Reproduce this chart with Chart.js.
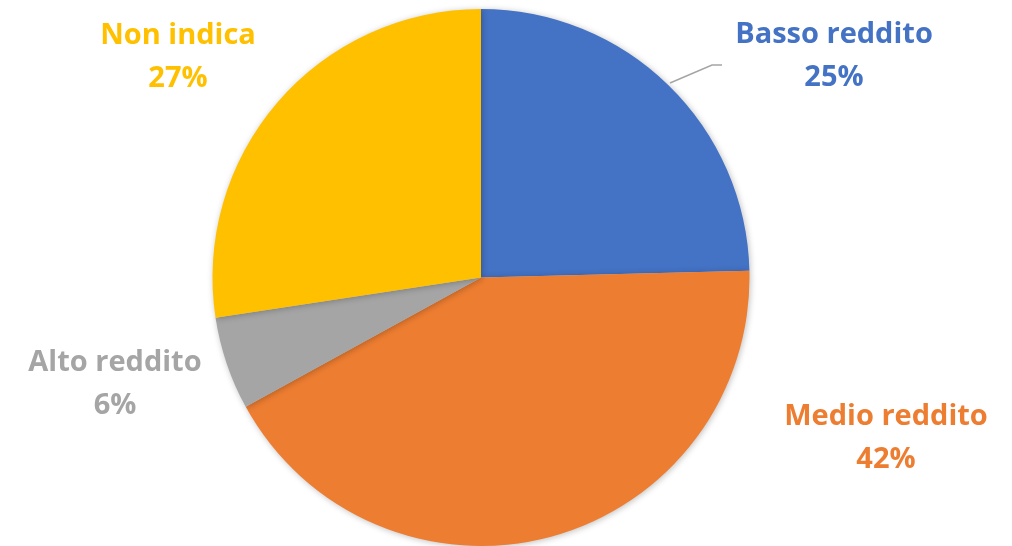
<!DOCTYPE html>
<html lang="it">
<head>
<meta charset="utf-8">
<title>Reddito</title>
<script src="https://cdn.jsdelivr.net/npm/chart.js@4/dist/chart.umd.min.js"></script>
<style>
    html, body { margin: 0; padding: 0; background: #fff; }
    #wrap { width: 1012px; height: 546px; position: relative; }
</style>
</head>
<body>
<div id="wrap"><canvas id="pieChart"></canvas></div>
<script>
// dati (quote in %)
const categories = ['Basso reddito', 'Medio reddito', 'Alto reddito', 'Non indica'];
const shares = [24.6, 42.4, 5.6, 27.4];
const sliceColors = ['#4472C4', '#ED7D31', '#A5A5A5', '#FFC000'];

// posizione delle etichette (centro delle due righe), come nel foglio originale
const labelSpots = [
    { x: 834, y: 35, leader: [[670, 83], [712, 65], [722, 65]] },
    { x: 886, y: 417 },
    { x: 115, y: 363 },
    { x: 178, y: 36 }
];

const shadowPlugin = {
    id: 'pieShadow',
    beforeDatasetsDraw(chart) {
        const ctx = chart.ctx;
        ctx.save();
        ctx.shadowColor = 'rgba(0,0,0,0.25)';
        ctx.shadowBlur = 6;
        ctx.shadowOffsetX = 1;
        ctx.shadowOffsetY = 1;
    },
    afterDatasetsDraw(chart) {
        chart.ctx.restore();
    }
};

const labelPlugin = {
    id: 'sliceLabels',
    afterDraw(chart) {
        const ctx = chart.ctx;
        const data = chart.data.datasets[0].data;
        const total = data.reduce((s, v) => s + v, 0);
        ctx.save();
        ctx.font = 'bold 29px "Open Sans", sans-serif';
        ctx.textAlign = 'center';
        ctx.textBaseline = 'middle';
        labelSpots.forEach((spot, i) => {
            if (spot.leader) {
                ctx.strokeStyle = '#A5A5A5';
                ctx.lineWidth = 1.5;
                ctx.beginPath();
                spot.leader.forEach((p, j) => j === 0 ? ctx.moveTo(p[0], p[1]) : ctx.lineTo(p[0], p[1]));
                ctx.stroke();
            }
            ctx.fillStyle = sliceColors[i];
            ctx.fillText(chart.data.labels[i], spot.x, spot.y);
            ctx.fillText(Math.round(data[i] / total * 100) + '%', spot.x, spot.y + 43);
        });
        ctx.restore();
    }
};

new Chart(document.getElementById('pieChart'), {
    type: 'pie',
    data: {
        labels: categories,
        datasets: [{
            data: shares,
            backgroundColor: sliceColors,
            borderWidth: 0
        }]
    },
    options: {
        responsive: true,
        maintainAspectRatio: false,
        animation: false,
        layout: { padding: { top: 9, bottom: 0, left: 0, right: 50 } },
        plugins: {
            legend: { display: false },
            tooltip: { enabled: false }
        }
    },
    plugins: [shadowPlugin, labelPlugin]
});
</script>
</body>
</html>
